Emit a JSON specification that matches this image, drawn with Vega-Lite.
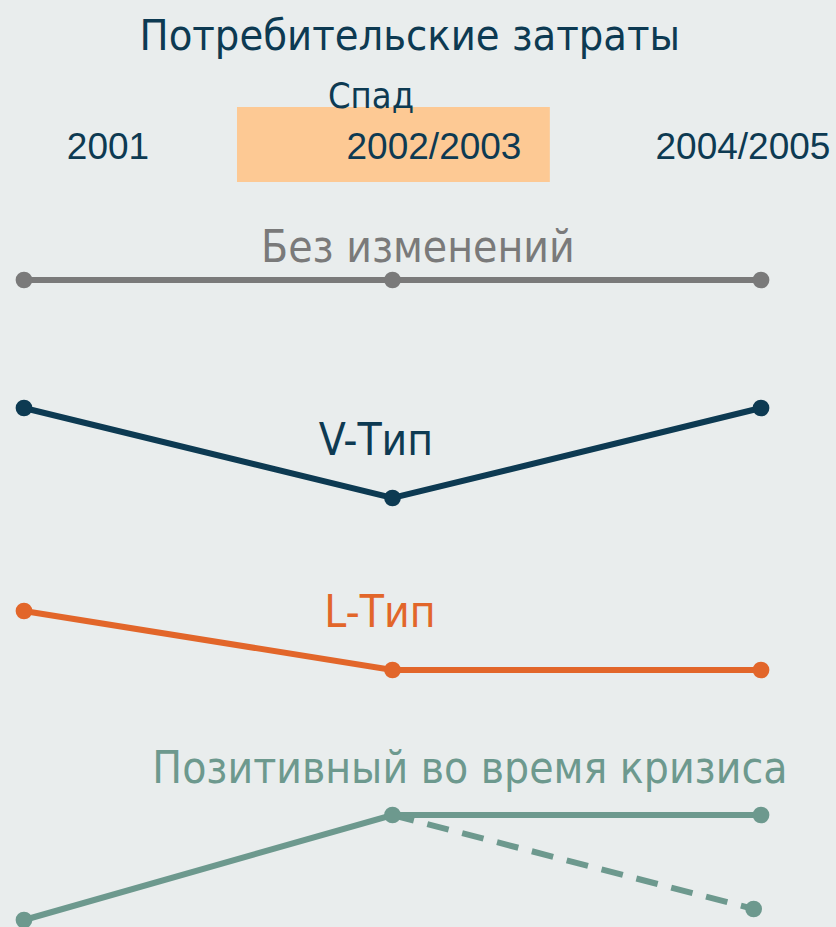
{
  "$schema": "https://vega.github.io/schema/vega-lite/v6.json",
  "width": 836,
  "height": 927,
  "padding": 0,
  "autosize": {"type": "none"},
  "background": "#e9eded",
  "config": {"view": {"stroke": null}},
  "datasets": {
    "band": [{"t0": 0.578, "t1": 1.427, "v0": 74.5, "v1": 82.0}],
    "lines": [
      {"series": "flat", "t": 0, "v": 64.7},
      {"series": "flat", "t": 1, "v": 64.7},
      {"series": "flat", "t": 2, "v": 64.7},
      {"series": "v", "t": 0, "v": 51.9},
      {"series": "v", "t": 1, "v": 42.9},
      {"series": "v", "t": 2, "v": 51.9},
      {"series": "l", "t": 0, "v": 31.6},
      {"series": "l", "t": 1, "v": 25.7},
      {"series": "l", "t": 2, "v": 25.7},
      {"series": "pos", "t": 0, "v": 0.7},
      {"series": "pos", "t": 1, "v": 11.2},
      {"series": "pos", "t": 2, "v": 11.2}
    ],
    "dashed": [
      {"series": "pos", "t": 1, "v": 11.2},
      {"series": "pos", "t": 1.98, "v": 1.8}
    ],
    "labels": [
      {"series": "title", "label": "Потребительские затраты", "t": 1.047, "v": 87.7, "kind": "title"},
      {"series": "flat", "label": "Без изменений", "t": 1.069, "v": 66.5, "kind": "label"},
      {"series": "v", "label": "V-Тип", "t": 0.955, "v": 47.2, "kind": "label"},
      {"series": "l", "label": "L-Тип", "t": 0.966, "v": 30.0, "kind": "label"},
      {"series": "pos", "label": "Позитивный во время кризиса", "t": 1.21, "v": 14.4, "kind": "label"}
    ],
    "spad": [
      {"series": "title", "label": "Спад", "t": 0.9417, "v": 81.9}
    ],
    "years": [
      {"series": "title", "label": "2001", "t": 0.228, "v": 76.8},
      {"series": "title", "label": "2002/2003", "t": 1.1126, "v": 76.8},
      {"series": "title", "label": "2004/2005", "t": 1.951, "v": 76.8}
    ]
  },
  "encoding": {
    "x": {"field": "t", "type": "quantitative", "scale": {"domain": [-0.0651, 2.2035], "nice": false, "zero": false}, "axis": null},
    "y": {"field": "v", "type": "quantitative", "scale": {"domain": [0, 92.7], "nice": false, "zero": false}, "axis": null},
    "color": {"field": "series", "type": "nominal", "legend": null,
      "scale": {"domain": ["title", "flat", "v", "l", "pos"], "range": ["#0d3a52", "#7a7a7a", "#0d3a52", "#e2662a", "#6d998e"]}}
  },
  "layer": [
    {
      "data": {"name": "band"},
      "mark": {"type": "rect", "color": "#fdc994"},
      "encoding": {
        "x": {"field": "t0", "type": "quantitative"},
        "x2": {"field": "t1"},
        "y": {"field": "v0", "type": "quantitative"},
        "y2": {"field": "v1"},
        "color": {"value": "#fdc994"}
      }
    },
    {
      "data": {"name": "lines"},
      "mark": {"type": "line", "strokeWidth": 6},
      "encoding": {"detail": {"field": "series"}}
    },
    {
      "data": {"name": "dashed"},
      "mark": {"type": "line", "strokeWidth": 6, "strokeDash": [22, 14]},
      "encoding": {}
    },
    {
      "data": {"name": "lines"},
      "mark": {"type": "point", "filled": true, "opacity": 1, "size": 280}
    },
    {
      "data": {"name": "dashed"},
      "transform": [{"filter": "datum.t > 1.5"}],
      "mark": {"type": "point", "filled": true, "opacity": 1, "size": 280}
    },
    {
      "data": {"name": "labels"},
      "mark": {"type": "text", "font": "DejaVu Sans Condensed", "align": "center", "baseline": "alphabetic"},
      "encoding": {
        "text": {"field": "label"},
        "size": {"field": "kind", "type": "nominal", "legend": null, "scale": {"domain": ["title", "label"], "range": [43, 44]}}
      }
    },
    {
      "data": {"name": "spad"},
      "mark": {"type": "text", "font": "DejaVu Sans Condensed", "fontSize": 36, "align": "center", "baseline": "alphabetic"},
      "encoding": {"text": {"field": "label"}}
    },
    {
      "data": {"name": "years"},
      "mark": {"type": "text", "font": "Liberation Sans", "fontSize": 37, "align": "center", "baseline": "alphabetic"},
      "encoding": {"text": {"field": "label"}}
    }
  ]
}
